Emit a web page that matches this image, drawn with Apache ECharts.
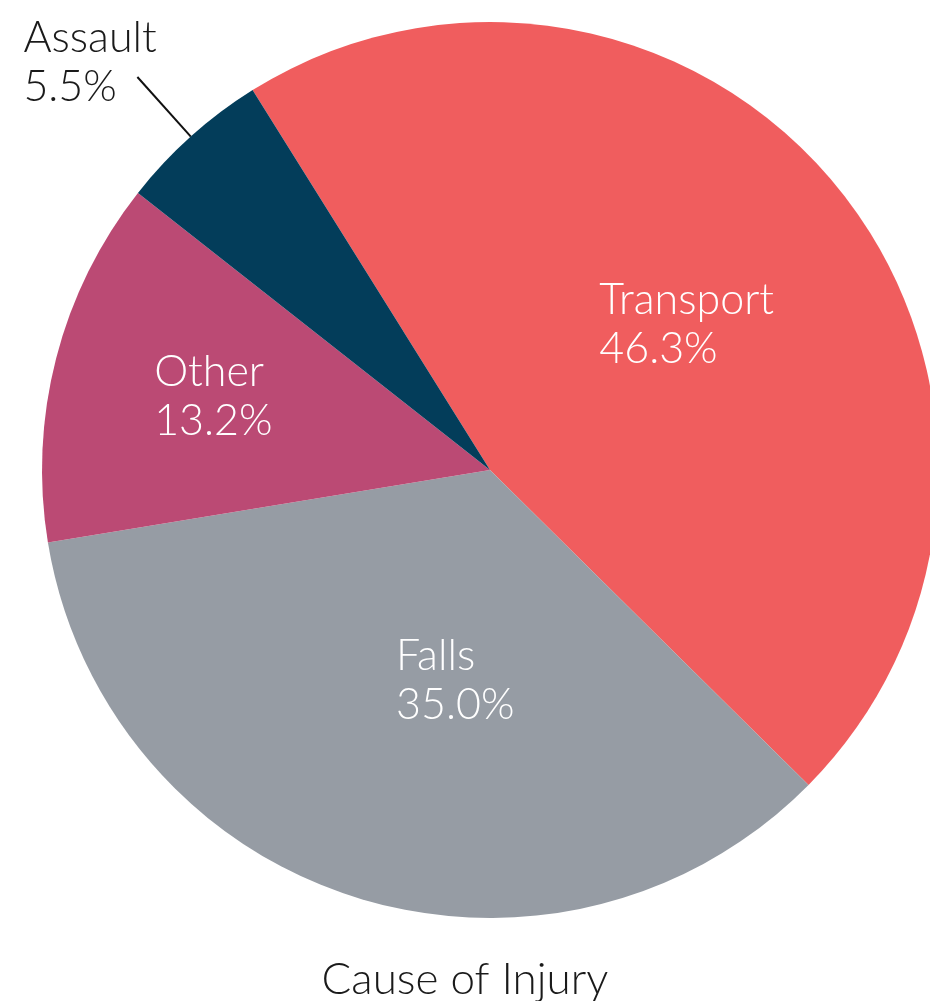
<!DOCTYPE html>
<html>
<head>
<meta charset="utf-8">
<script src="https://cdn.jsdelivr.net/npm/echarts@6/dist/echarts.min.js"></script>
<style>
html,body{margin:0;padding:0;background:#fff;}
#chart{width:930px;height:1001px;}
</style>
</head>
<body>
<div id="chart"></div>
<script>
const categories = ['Transport', 'Falls', 'Other', 'Assault'];
const values = [46.3, 35.0, 13.2, 5.5];
const colors = ['#F05D5E', '#969CA4', '#BB4A74', '#033D5A'];
const chartTitle = 'Cause of Injury';

const FONT = 'Lato, "Open Sans", sans-serif';
const labelShift = {
  Transport: [-68, -4],
  Falls: [-25, -6],
  Other: [-116, -17],
  Assault: [-109, -14]
};

const chart = echarts.init(document.getElementById('chart'), null, {renderer: 'canvas'});
const data = categories.map((c, i) => {
  const item = {name: c, value: values[i], itemStyle: {color: colors[i]}};
  if (c === 'Assault') {
    item.label = {position: 'outside', color: '#1a1a1a'};
    item.labelLine = {show: true, length: 80, length2: 0, lineStyle: {color: '#111', width: 2}};
  }
  return item;
});

chart.setOption({
  animation: false,
  title: {
    text: chartTitle,
    left: 'center',
    top: 953,
    textStyle: {fontFamily: FONT, fontWeight: 300, fontSize: 44, color: '#1a1a1a'}
  },
  series: [{
    type: 'pie',
    center: [490, 470],
    radius: 448,
    startAngle: 122,
    clockwise: true,
    avoidLabelOverlap: false,
    label: {
      show: true,
      position: 'inside',
      color: '#ffffff',
      fontFamily: FONT,
      fontWeight: 300,
      fontSize: 43,
      lineHeight: 49,
      formatter: p => p.name + '\n' + p.value.toFixed(1) + '%'
    },
    labelLine: {show: false},
    labelLayout: function (params) {
      const s = labelShift[categories[params.dataIndex]];
      return {align: 'left', dx: s[0], dy: s[1]};
    },
    emphasis: {disabled: true},
    data: data
  }]
});
</script>
</body>
</html>
